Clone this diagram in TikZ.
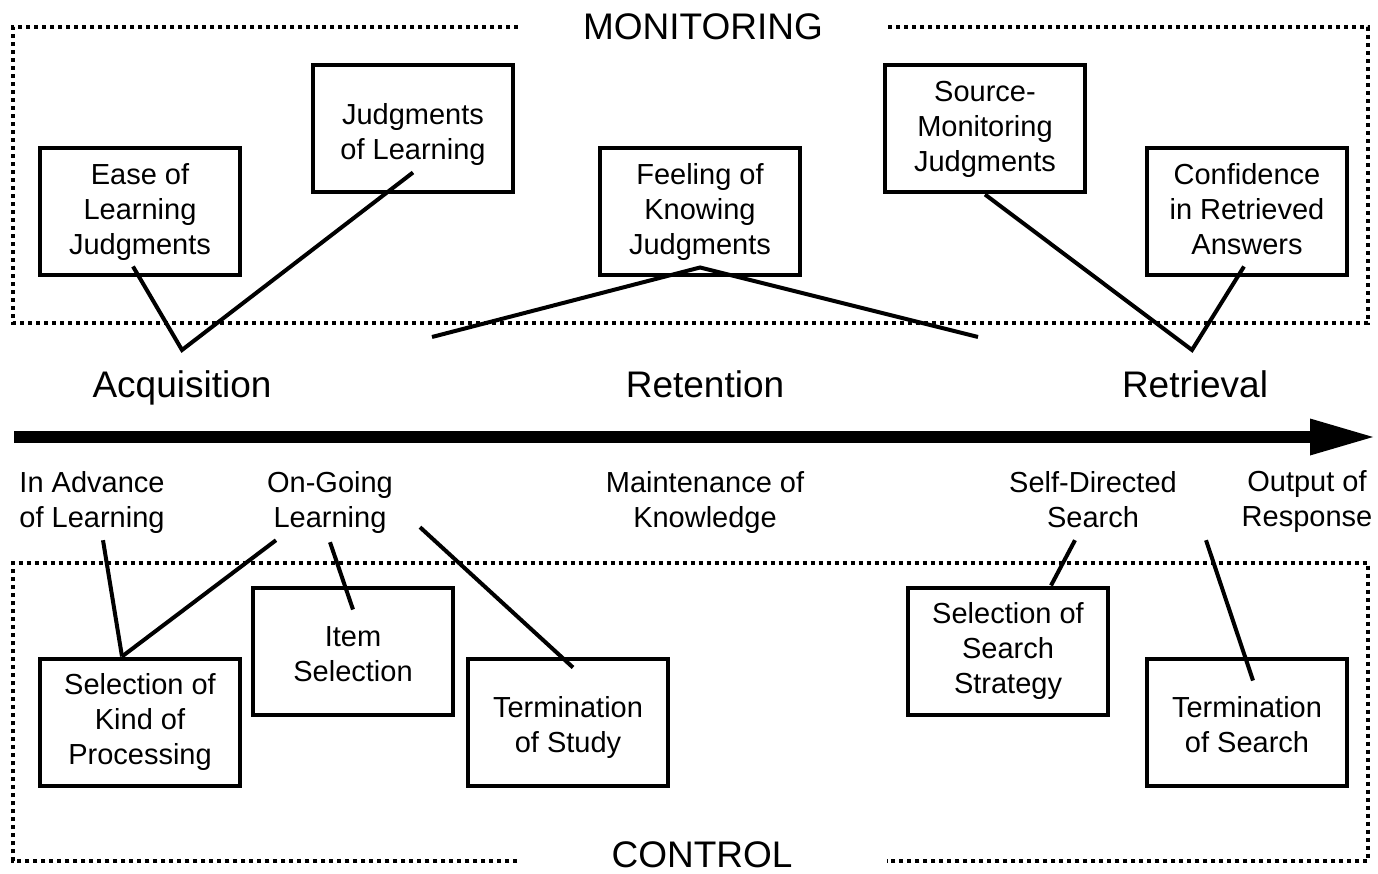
\documentclass[tikz,border=0pt]{standalone}
\usepackage{fontspec}
\setmainfont{Liberation Sans}
\usetikzlibrary{arrows.meta}
\tikzstyle{block} = [rectangle, minimum width=200pt, minimum height=127pt, text centered, align=center, text depth=6pt, draw=black, line width=4pt, font=\fontsize{29}{35}\selectfont]
\tikzstyle{pair} = [block, text height=67pt]
\tikzstyle{phase} = [align=center, inner sep=0pt, text depth=6pt, font=\fontsize{29}{35}\selectfont]
\tikzstyle{stage} = [anchor=base, inner sep=0pt, font=\fontsize{37}{44}\selectfont]
\tikzstyle{title} = [inner ysep=0pt, font=\fontsize{37}{44}\selectfont]
\tikzstyle{frame} = [line width=3.5pt, dash pattern=on 4pt off 4pt]
\tikzstyle{line} = [line width=4pt]
\tikzstyle{timeline} = [line width=12pt, -{Triangle[length=63pt, width=37pt, line width=0pt]}]

\begin{document}
\begin{tikzpicture}[x=1pt, y=-1pt]
  \useasboundingbox (0,0) rectangle (1378,874);

  % monitoring side
  \node (montitle) [title, inner xsep=65pt] at (703,27) {MONITORING};
  \draw [frame] (montitle.west) -- (13,27) -- (13,323) -- (1368,323) -- (1368,27) -- (montitle.east);

  \node (ease) [block] at (140,212) {Ease of\\Learning\\Judgments};
  \node (jol) [pair] at (413,129) {Judgments\\of Learning};
  \node (fok) [block] at (700,212) {Feeling of\\Knowing\\Judgments};
  \node (src) [block] at (985,129) {Source-\\Monitoring\\Judgments};
  \node (conf) [block] at (1247,212) {Confidence\\in Retrieved\\Answers};

  \node (acq) [stage] at (182,397) {Acquisition};
  \node (ret) [stage] at (705,397) {Retention};
  \node (rtv) [stage] at (1195,397) {Retrieval};

  \coordinate (fokl) at (432,337);
  \coordinate (fokr) at (978,337);

  \draw [line] ([xshift=-7pt,yshift=11pt]ease.south) -- ([yshift=20pt]acq.north) -- ([yshift=22pt]jol.south);
  \draw [line] (fokl) -- ([yshift=10pt]fok.south) -- (fokr);
  \draw [line] (src.south) -- ([xshift=-3pt,yshift=20pt]rtv.north) -- ([xshift=-3pt,yshift=11pt]conf.south);

  % time line
  \coordinate (tstart) at (14,437);
  \coordinate (tend) at (1373,437);
  \draw [timeline] (tstart) -- (tend);

  \node (adv) [phase] at (92,502) {In Advance\\of Learning};
  \node (ongo) [phase] at (330,502) {On-Going\\Learning};
  \node (maint) [phase] at (705,502) {Maintenance of\\Knowledge};
  \node (selfdir) [phase] at (1093,502) {Self-Directed\\Search};
  \node (output) [phase] at (1307,502) {Output of\\Response};

  % control side
  \node (ctltitle) [title, inner xsep=94pt] at (702,855) {CONTROL};
  \draw [frame] ([yshift=-6pt]ctltitle.west) -- (13,861) -- (13,563) -- (1368,563) -- (1368,861) -- ([yshift=-6pt]ctltitle.east);

  \node (kind) [block] at (140,722) {Selection of\\Kind of\\Processing};
  \node (item) [pair] at (353,651) {Item\\Selection};
  \node (study) [pair] at (568,722) {Termination\\of Study};
  \node (strat) [block] at (1008,651) {Selection of\\Search\\Strategy};
  \node (tsearch) [pair] at (1247,722) {Termination\\of Search};

  \draw [line] ([xshift=11pt,yshift=-7pt]adv.south) -- ([xshift=-18pt]kind.north);
  \draw [line] ([xshift=-54pt,yshift=-7pt]ongo.south) -- ([xshift=-18pt]kind.north);
  \draw [line] ([yshift=-9pt]ongo.south) -- ([yshift=-24pt]item.north);
  \draw [line] ([xshift=90pt,yshift=6pt]ongo.south) -- ([xshift=5pt,yshift=-11pt]study.north);
  \draw [line] ([xshift=-18pt,yshift=-7pt]selfdir.south) -- ([xshift=43pt]strat.north);
  \draw [line] ([xshift=-101pt,yshift=-7pt]output.south) -- ([xshift=6pt,yshift=-24pt]tsearch.north);
\end{tikzpicture}
\end{document}
